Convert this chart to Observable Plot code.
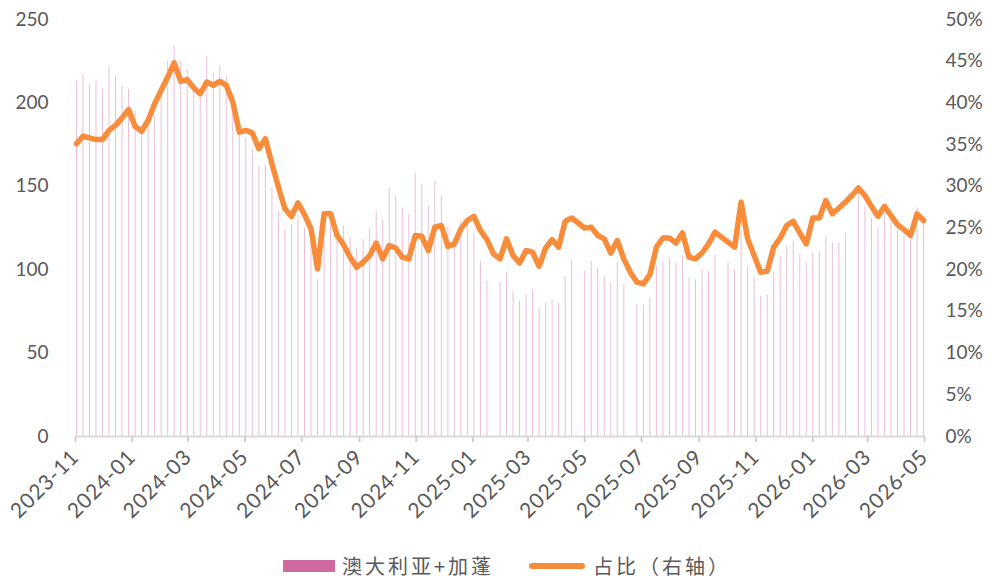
<!DOCTYPE html>
<html>
<head>
<meta charset="utf-8">
<script src="https://cdn.jsdelivr.net/npm/d3@7"></script>
<script src="https://cdn.jsdelivr.net/npm/@observablehq/plot@0.6"></script>
<style>
  html, body { margin: 0; padding: 0; background: #fff; }
  #wrap { width: 992px; height: 580px; position: relative; overflow: hidden; }
  .legend { position: absolute; top: 551px; left: 283px; display: flex; align-items: center;
    font-family: "Noto Sans CJK SC", sans-serif; font-size: 20px; color: #595959; letter-spacing: 3px; line-height: 29px; height: 29px; }
  .sw-bar { width: 52px; height: 12px; background: #cf6aa0; margin-right: 7px; }
  .sw-line { width: 56px; height: 6px; border-radius: 3px; background: #f98c3a; margin-left: 35px; margin-right: 8px; }
</style>
</head>
<body>
<div id="wrap"></div>
<script>
// Weekly series, first week starting 2023-11-02
const startDate = "2023-11-02";
const seriesBarName = "澳大利亚+加蓬";
const seriesLineName = "占比（右轴）";
const volumes = [
  213,217,211,213,208,222,216,210,208,195,
  183,188,192,205,225,234,225,220,209,205,
  228,218,222,216,200,182,179,172,162,163,
  149,135,124,127,133,125,122,94,130,130,
  123,126,119,113,118,125,135,130,149,144,
  137,133,158,151,138,153,144,126,118,129,
  128,122,105,93,null,92,98,87,81,85,
  88,77,80,82,80,96,106,null,99,105,
  101,96,92,104,91,null,79,79,83,102,
  105,107,104,108,95,94,100,99,109,null,
  104,100,124,102,95,84,85,99,108,114,
  117,109,104,110,111,120,116,116,122,null,
  148,138,131,125,134,130,126,120,120,137,
  132
];
const shares = [
  35.1,36.0,35.8,35.6,35.6,36.7,37.3,38.2,39.2,37.2,
  36.6,37.9,39.9,41.5,43.1,44.8,42.6,42.8,41.8,41.1,
  42.5,42.1,42.6,42.1,40.1,36.5,36.7,36.4,34.5,35.7,
  32.7,29.9,27.3,26.4,28.0,26.6,24.9,20.1,26.7,26.7,
  24.1,23.0,21.5,20.3,20.9,21.7,23.2,21.3,22.9,22.6,
  21.5,21.3,24.1,24.0,22.3,25.1,25.3,22.8,23.1,24.9,
  25.9,26.4,24.7,23.6,21.9,21.3,23.7,21.7,20.8,22.3,
  22.1,20.4,22.6,23.6,22.7,25.8,26.2,25.6,25.0,25.1,
  24.1,23.7,22.0,23.5,21.3,19.7,18.5,18.3,19.4,22.7,
  23.8,23.8,23.2,24.4,21.5,21.3,22.0,23.1,24.5,23.9,
  23.3,22.7,28.1,23.7,21.7,19.7,19.8,22.7,23.8,25.3,
  25.8,24.4,23.1,26.2,26.2,28.3,26.7,27.4,28.1,28.9,
  29.8,28.9,27.6,26.4,27.6,26.5,25.4,24.8,24.1,26.7,
  25.9
];
const leftTicks = [0, 50, 100, 150, 200, 250];
const rightTicks = [0, 5, 10, 15, 20, 25, 30, 35, 40, 45, 50];
const xDomain = ["2023-11-01", "2026-05-01"];

const start = new Date(startDate + "T00:00:00Z");
const data = volumes.map((v, i) => ({
  date: d3.utcDay.offset(start, 7 * i),
  v: v,
  s: shares[i]
}));
const ratio = 250 / 50; // left-scale units per percent

const font = "Lato, 'Noto Sans', sans-serif";
const chart = Plot.plot({
  width: 992,
  height: 548,
  marginTop: 19,
  marginBottom: 112,
  marginLeft: 75,
  marginRight: 68,
  style: { fontFamily: font, fontSize: "19px", color: "#595959", background: "#fff" },
  x: { type: "utc", domain: xDomain.map(d => new Date(d + "T00:00:00Z")) },
  y: { domain: [0, 250] },
  marks: [
    Plot.ruleX(data.filter(d => d.v != null), { x: "date", y1: 0, y2: "v", stroke: "#d67fb0", strokeOpacity: 0.5, strokeWidth: 1 }),
    Plot.ruleY([0], { stroke: "#d9d9d9", strokeWidth: 2 }),
    Plot.axisX({ ticks: d3.utcMonth.every(2), tickFormat: d3.utcFormat("%Y-%m"), tickRotate: -45, tickSize: 6, tickPadding: 11, fontSize: 21, stroke: "#d0d0d0", strokeWidth: 2, fill: "#595959", label: null }),
    Plot.axisY({ ticks: leftTicks, tickSize: 0, tickPadding: 27, label: null, fill: "#595959" }),
    Plot.axisY({ anchor: "right", ticks: rightTicks.map(t => t * ratio), tickFormat: d => (d / ratio) + "%", tickSize: 0, tickPadding: 21, label: null, fill: "#595959" }),
    Plot.line(data, { x: "date", y: d => d.s * ratio, stroke: "#f98c3a", strokeWidth: 5.5, strokeLinejoin: "round", strokeLinecap: "round" })
  ]
});
chart.querySelectorAll('[aria-label="x-axis tick label"] text').forEach(t => t.setAttribute("letter-spacing", "0.8"));
const wrap = document.getElementById("wrap");
wrap.appendChild(chart);

const legend = document.createElement("div");
legend.className = "legend";
legend.innerHTML = `<span class="sw-bar"></span><span>${seriesBarName}</span><span class="sw-line"></span><span>${seriesLineName}</span>`;
wrap.appendChild(legend);
</script>
</body>
</html>
